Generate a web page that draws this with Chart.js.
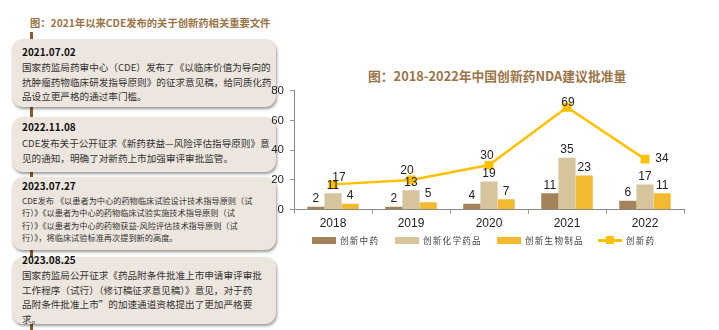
<!DOCTYPE html>
<html>
<head>
<meta charset="utf-8">
<script src="https://cdn.jsdelivr.net/npm/chart.js@4"></script>
<style>
  html, body { margin: 0; padding: 0; background: #fff; }
  body { width: 719px; height: 330px; position: relative; overflow: hidden;
         font-family: "Noto Sans CJK SC", "Noto Sans", sans-serif; }
  .abs { position: absolute; white-space: nowrap; }
  .left-title { left: 30px; top: 14px; font-size: 10.3px; font-weight: bold; color: #9b7346; line-height: 18px; }
  .timeline { left: 30px; top: 32px; width: 3px; height: 298px; background: #8c5a2b; }
  .box { position: absolute; left: 12px; width: 264px; background: #ede6de; border-radius: 11px;
         box-shadow: 1px 2px 3px rgba(0,0,0,0.4); }
  .date { position: absolute; left: 22px; font-size: 10px; font-weight: bold; color: #111; line-height: 14px; white-space: nowrap; }
  .txt { position: absolute; left: 22px; font-size: 9.6px; color: #333; line-height: 14.5px; white-space: nowrap; }
  .txt.small { font-size: 8.2px; line-height: 12.3px; }
  .chart-title { left: 368px; top: 67px; font-size: 12.8px; font-weight: bold; color: #9b7346; line-height: 18px; }
  #wrap { position: absolute; left: 255px; top: 78px; width: 464px; height: 156px; }
  .lg { position: absolute; top: 233px; height: 14px; }
  .lg .sw { position: absolute; left: 0; width: 24px; }
  .lg .lb { position: absolute; left: 28px; top: 0; font-size: 8.6px; letter-spacing: 1.2px; color: #444; line-height: 14px; white-space: nowrap; }
</style>
</head>
<body>

<div class="abs left-title">图：2021年以来CDE发布的关于创新药相关重要文件</div>
<div class="abs timeline"></div>

<div class="box" style="top:39px;height:68px;"></div>
<div class="date" style="top:45px;">2021.07.02</div>
<div class="txt" style="top:60px;">国家药监局药审中心（CDE）发布了《以临床价值为导向的<br>抗肿瘤药物临床研发指导原则》的征求意见稿，给同质化药<br>品设立更严格的通过率门槛。</div>

<div class="box" style="top:117px;height:55px;"></div>
<div class="date" style="top:120px;">2022.11.08</div>
<div class="txt" style="top:136px;">CDE发布关于公开征求《新药获益—风险评估指导原则》意<br>见的通知，明确了对新药上市加强审评审批监管。</div>

<div class="box" style="top:177px;height:73px;"></div>
<div class="date" style="top:179px;">2023.07.27</div>
<div class="txt small" style="top:194px;">CDE发布 《以患者为中心的药物临床试验设计技术指导原则（试<br>行）》《以患者为中心的药物临床试验实施技术指导原则（试<br>行）》《以患者为中心的药物获益-风险评估技术指导原则（试<br>行）》，将临床试验标准再次提到新的高度。</div>

<div class="box" style="top:257px;height:67px;"></div>
<div class="date" style="top:253px;">2023.08.25</div>
<div class="txt" style="top:268px;">国家药监局公开征求《药品附条件批准上市申请审评审批<br>工作程序（试行）（修订稿征求意见稿）》意见，对于药<br>品附条件批准上市”的加速通道资格提出了更加严格要<br>求。</div>

<div class="abs chart-title">图：2018-2022年中国创新药NDA建议批准量</div>
<div id="wrap"><canvas id="nda"></canvas></div>
<div id="legend"></div>

<script>
// 2018-2022 创新药 NDA 建议批准量
const years = ["2018", "2019", "2020", "2021", "2022"];
const tcmDrugs = [2, 2, 4, 11, 6];          // 创新中药
const chemDrugs = [11, 13, 19, 35, 17];     // 创新化学药品
const bioDrugs = [4, 5, 7, 23, 11];         // 创新生物制品
const totalDrugs = [17, 20, 30, 69, 34];    // 创新药

const seriesNames = ["创新中药", "创新化学药品", "创新生物制品", "创新药"];
const colors = ["#a5835a", "#d6c49d", "#f3b930", "#ffc000"];

// label offsets for the line values
const lineLabelOffset = [[6, -7], [-4, -9], [-2, -9], [1, -5], [17, 0]];

const valueLabels = {
    id: "valueLabels",
    afterDatasetsDraw(chart) {
        const ctx = chart.ctx;
        ctx.save();
        ctx.font = "12px 'Liberation Sans', Arial, sans-serif";
        ctx.fillStyle = "#222";
        ctx.textAlign = "center";
        ctx.textBaseline = "middle";
        chart.data.datasets.forEach((ds, i) => {
            const meta = chart.getDatasetMeta(i);
            meta.data.forEach((el, j) => {
                if (ds.type === "line") {
                    const o = lineLabelOffset[j];
                    ctx.fillText(ds.data[j], el.x + o[0], el.y + o[1]);
                } else {
                    ctx.fillText(ds.data[j], el.x, el.y - 8);
                }
            });
        });
        ctx.restore();
    }
};

Chart.defaults.font.family = "'Liberation Sans', Arial, sans-serif";

new Chart(document.getElementById("nda"), {
    type: "bar",
    data: {
        labels: years,
        datasets: [
            { type: "line", label: seriesNames[3], data: totalDrugs, borderColor: colors[3],
              backgroundColor: colors[3], borderWidth: 2.5, pointStyle: "rect", pointRadius: 4.5,
              pointHoverRadius: 4.5, order: 0 },
            { label: seriesNames[0], data: tcmDrugs, backgroundColor: colors[0], order: 1 },
            { label: seriesNames[1], data: chemDrugs, backgroundColor: colors[1], order: 1 },
            { label: seriesNames[2], data: bioDrugs, backgroundColor: colors[2], order: 1 }
        ]
    },
    options: {
        responsive: true,
        maintainAspectRatio: false,
        animation: false,
        layout: { padding: { top: 0, right: 35, bottom: 0, left: 0 } },
        datasets: { bar: { categoryPercentage: 0.66, barPercentage: 1 } },
        plugins: { legend: { display: false }, tooltip: { enabled: false } },
        scales: {
            x: {
                grid: { display: true, drawOnChartArea: false, tickLength: 4, color: "#999", offset: true },
                border: { color: "#888" },
                ticks: { color: "#222", font: { size: 12 }, padding: 3 }
            },
            y: {
                min: 0, max: 80,
                afterFit(scale) { scale.width = 39; },
                grid: { display: true, drawOnChartArea: false, tickLength: 4, color: "#999" },
                border: { color: "#888" },
                ticks: { stepSize: 10, color: "#222", font: { size: 11.5 }, padding: 6 }
            }
        }
    },
    plugins: [valueLabels]
});

// legend
const legendLeft = [312, 395, 497, 598];
const legend = document.getElementById("legend");
seriesNames.forEach((name, i) => {
    const item = document.createElement("div");
    item.className = "lg";
    item.style.left = legendLeft[i] + "px";
    if (i < 3) {
        item.innerHTML = '<div class="sw" style="top:4px;height:7px;background:' + colors[i] + '"></div>';
    } else {
        item.innerHTML = '<div class="sw" style="top:6px;height:2.5px;background:' + colors[i] + '"></div>' +
            '<div style="position:absolute;left:8px;top:3px;width:8px;height:8px;background:' + colors[i] + '"></div>';
    }
    item.innerHTML += '<div class="lb">' + name + '</div>';
    legend.appendChild(item);
});
</script>
</body>
</html>
